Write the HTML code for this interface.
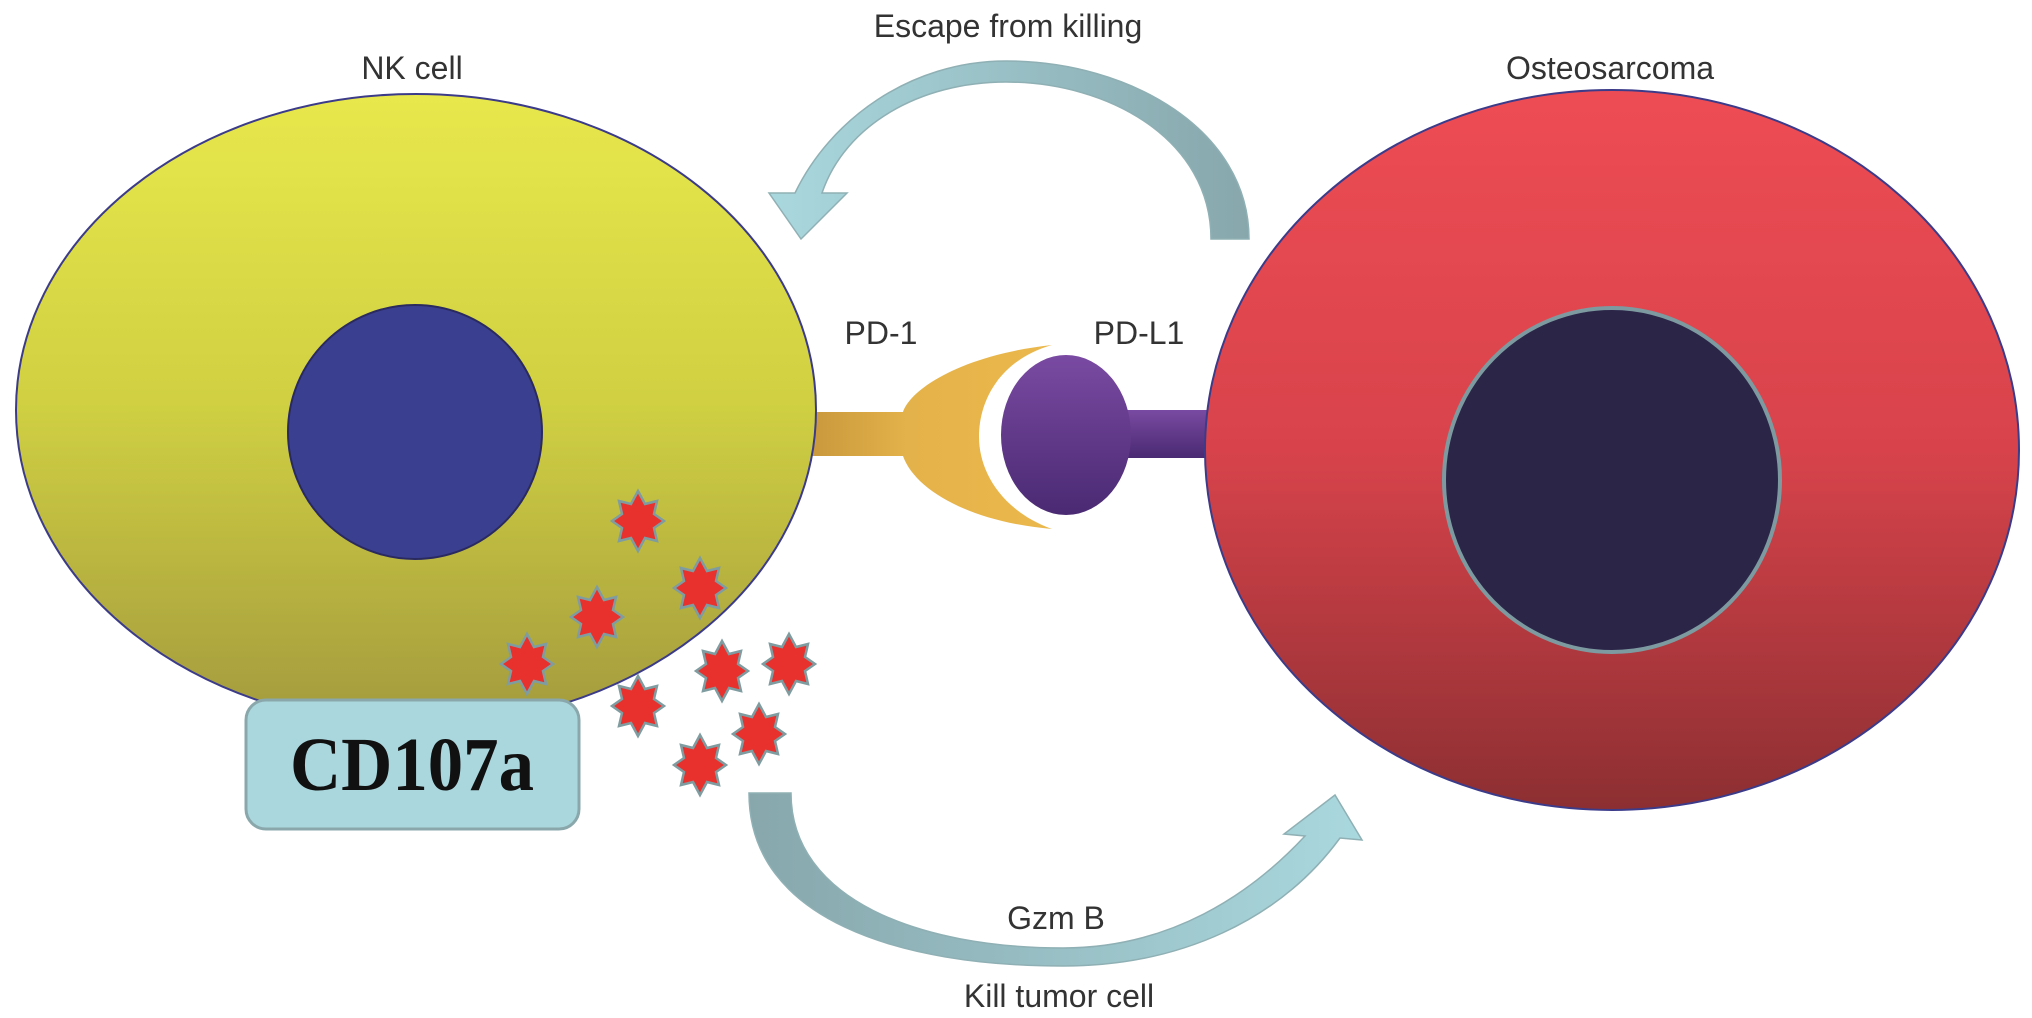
<!DOCTYPE html>
<html><head><meta charset="utf-8"><style>html,body{margin:0;padding:0;background:#fff}svg{display:block}</style></head>
<body>
<svg width="2032" height="1018" viewBox="0 0 2032 1018" xmlns="http://www.w3.org/2000/svg">
<defs>
<linearGradient id="nk" x1="0" y1="0" x2="0" y2="1"><stop offset="0" stop-color="#e8e84c"/><stop offset="0.5" stop-color="#cfcf42"/><stop offset="1" stop-color="#a39a3e"/></linearGradient>
<linearGradient id="os" x1="0" y1="0" x2="0" y2="1"><stop offset="0" stop-color="#ee4c54"/><stop offset="0.5" stop-color="#d8434b"/><stop offset="1" stop-color="#8c2f32"/></linearGradient>
<linearGradient id="pu" x1="0" y1="0" x2="0" y2="1"><stop offset="0" stop-color="#7a4aa2"/><stop offset="1" stop-color="#4a2a72"/></linearGradient>
<linearGradient id="or" x1="0" y1="0" x2="1" y2="0"><stop offset="0" stop-color="#c8983c"/><stop offset="0.4" stop-color="#e4b24a"/><stop offset="1" stop-color="#ebb84c"/></linearGradient>
<linearGradient id="ar1" x1="0" y1="0" x2="1" y2="0"><stop offset="0" stop-color="#a9d8de"/><stop offset="1" stop-color="#87a7ac"/></linearGradient>
<linearGradient id="ar2" x1="0" y1="0" x2="1" y2="0"><stop offset="0" stop-color="#87a7ac"/><stop offset="1" stop-color="#a9d8de"/></linearGradient>
<g id="star"><polygon points="0,-30 7,-17 19,-20 16,-7 26,0 16,7 19,20 7,17 0,30 -7,17 -19,20 -16,7 -26,0 -16,-7 -19,-20 -7,-17" fill="#e8302c" stroke="#7f9ca0" stroke-width="2.5"/></g>
</defs>

<path d="M1249,239 C1249,130 1130,61 1006,61 C910,61 830,120 795,193 L769,193 L801,239 L847,193 L822,193 C845,125 920,82 1006,82 C1110,82 1211,140 1211,239 Z" fill="url(#ar1)" stroke="#8fb0b4" stroke-width="1.5"/>
<path d="M749,793 L791,793 C791,900 920,948 1063,948 C1170,948 1250,895 1305,836 L1284,834 L1335,795 L1362,840 L1340,838 C1280,920 1180,966 1063,966 C900,966 749,920 749,793 Z" fill="url(#ar2)" stroke="#8fb0b4" stroke-width="1.5"/>

<g transform="translate(0,-30)">
<path d="M1052,375 C960,385 910,420 903,442 L810,442 L810,486 L903,486 C915,520 970,552 1052,559 C1000,540 979,500 979,467 C979,430 1000,390 1052,375 Z" fill="url(#or)"/>
<rect x="1110" y="440" width="110" height="48" fill="url(#pu)"/>
<ellipse cx="1066" cy="465" rx="65" ry="80" fill="url(#pu)"/>
</g>

<ellipse cx="416" cy="410" rx="400" ry="316" fill="url(#nk)" stroke="#3b3b8a" stroke-width="2"/>
<circle cx="415" cy="432" r="127" fill="#3a3f90" stroke="#2a2a60" stroke-width="2"/>

<ellipse cx="1612" cy="450" rx="407" ry="360" fill="url(#os)" stroke="#3b3b8a" stroke-width="2"/>
<ellipse cx="1612" cy="480" rx="168" ry="172" fill="#2b2548" stroke="#7d9aa0" stroke-width="4"/>

<rect x="246" y="700" width="333" height="129" rx="20" fill="#a9d7dd" stroke="#8aa8ac" stroke-width="3"/>
<text x="412" y="790" text-anchor="middle" font-family="Liberation Serif, serif" font-weight="bold" font-size="76" fill="#111" textLength="244" lengthAdjust="spacingAndGlyphs">CD107a</text>

<use href="#star" x="638" y="521"/>
<use href="#star" x="700" y="588"/>
<use href="#star" x="597" y="617"/>
<use href="#star" x="527" y="664"/>
<use href="#star" x="722" y="671"/>
<use href="#star" x="789" y="664"/>
<use href="#star" x="638" y="706"/>
<use href="#star" x="759" y="734"/>
<use href="#star" x="700" y="765"/>

<g font-family="Liberation Sans, sans-serif" font-size="32" fill="#333" text-anchor="middle">
<text x="412" y="79">NK cell</text>
<text x="1610" y="79">Osteosarcoma</text>
<text x="1008" y="37">Escape from killing</text>
<text x="881" y="344">PD-1</text>
<text x="1139" y="344">PD-L1</text>
<text x="1056" y="929">Gzm B</text>
<text x="1059" y="1007">Kill tumor cell</text>
</g>
</svg>
</body></html>
